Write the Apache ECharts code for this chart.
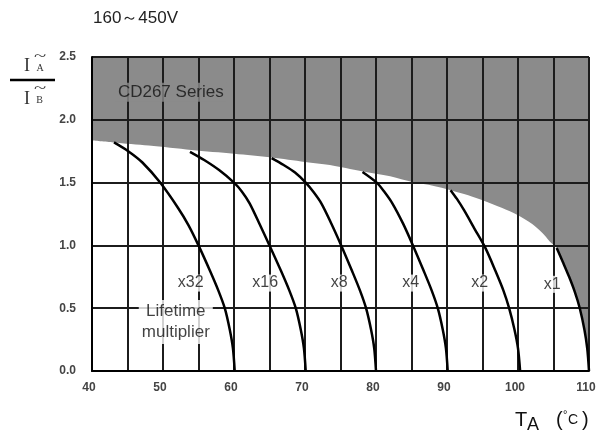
<!DOCTYPE html>
<html><head><meta charset="utf-8">
<script src="https://cdn.jsdelivr.net/npm/echarts@6/dist/echarts.min.js"></script>
<style>html,body{margin:0;padding:0;background:#fff}#c{width:603px;height:435px}</style>
</head><body><div id="c"></div>
<script>
// ---- data ----
const titleText = '160～450V';
const xMin = 40, xMax = 110, xStep = 5, xLabelStep = 10;
const yMin = 0, yMax = 2.5, yStep = 0.5;

// upper edge of the permitted (white) region; grey is above it
const boundary = [[40,1.835],[43,1.82],[48,1.795],[54,1.76],[60,1.73],[65.3,1.70],[70,1.665],[73.5,1.64],[78,1.59],[82,1.55],[85.4,1.5],[88,1.475],[90.5,1.44],[93,1.40],[95,1.36],[97.7,1.30],[100,1.24],[102,1.17],[103.4,1.10],[104.5,1.03],[105.45,0.98],[106.3,0.87],[107.2,0.75],[108.0,0.63],[108.7,0.5],[109.35,0.33],[109.75,0.18],[110,0]];

const curveNames = ['x32','x16','x8','x4','x2','x1'];
const curveX32 = [[43.1,1.82],[45.1,1.75],[47.1,1.66],[49.6,1.5],[52.1,1.30],[53.6,1.16],[55.0,1.0],[56.6,0.80],[57.8,0.64],[58.7,0.5],[59.4,0.33],[59.85,0.18],[60.1,0]];
const curveX16 = [[53.8,1.745],[55.8,1.68],[57.9,1.60],[60.0,1.5],[61.1,1.43],[62.2,1.335],[63.6,1.17],[65.0,1.0],[66.6,0.80],[67.8,0.64],[68.7,0.5],[69.4,0.33],[69.85,0.18],[70.1,0]];
const curveX8  = [[65.3,1.695],[67.0,1.64],[68.6,1.58],[70.1,1.5],[71.2,1.425],[72.3,1.335],[73.7,1.175],[75.1,1.0],[76.6,0.80],[77.75,0.64],[78.6,0.5],[79.3,0.33],[79.75,0.18],[80.0,0]];
const curveX4  = [[78.1,1.585],[80.1,1.5],[81.2,1.425],[82.3,1.335],[83.8,1.175],[85.2,1.0],[86.7,0.80],[87.85,0.64],[88.7,0.5],[89.4,0.33],[89.85,0.18],[90.1,0]];
const curveX2  = [[90.5,1.44],[91.4,1.37],[92.4,1.28],[93.9,1.13],[95.4,0.98],[96.8,0.80],[97.95,0.64],[98.75,0.5],[99.5,0.33],[100.0,0.18],[100.3,0]];
const curveX1  = [[105.45,0.98],[106.3,0.87],[107.2,0.75],[108.0,0.63],[108.7,0.5],[109.35,0.33],[109.75,0.18],[110,0]];
const curves = [curveX32, curveX16, curveX8, curveX4, curveX2, curveX1];

const labelX = [53.9, 64.4, 74.8, 84.9, 94.6, 104.8];
const labelY = [0.70, 0.70, 0.70, 0.70, 0.70, 0.69];

const noteText = 'Lifetime\nmultiplier';
const notePos = [51.8, 0.39];
const seriesText = 'CD267 Series';
const seriesPos = [51.1, 2.22];

// ---- chart ----
const GREY = '#8b8b8b';
const LINE = '#1c1c1c';
const FONT = '"Liberation Sans", Arial, sans-serif';
const SERIF = '"Liberation Serif", "DejaVu Serif", serif';

const chart = echarts.init(document.getElementById('c'), null, {renderer:'canvas'});

const series = [
  {
    type:'line', data: boundary, symbol:'none', z:1, silent:true, smooth:0.3,
    lineStyle:{width:0}, areaStyle:{origin:'end', color:GREY, opacity:1}
  }
];
curves.forEach((d, i) => series.push({
  type:'line', name: curveNames[i], data: d, symbol:'none', smooth:0.3, z:5, silent:true,
  lineStyle:{color:'#000', width:2.5}
}));
series.push({
  type:'scatter', z:8, silent:true, symbolSize:0.01, itemStyle:{color:'transparent'},
  data: curveNames.map((n,i)=>({value:[labelX[i], labelY[i]], name:n})),
  label:{show:true, position:'inside', formatter:'{b}', color:'#111', fontSize:16,
    fontFamily:FONT, backgroundColor:'#fff', padding:[1,2,0,2]}
});
series.push({
  type:'scatter', z:8, silent:true, symbolSize:0.01, itemStyle:{color:'transparent'},
  data:[{value:notePos, name:noteText}],
  label:{show:true, position:'inside', formatter:'{b}', color:'#111', fontSize:17, lineHeight:21,
    fontFamily:FONT, backgroundColor:'#fff', padding:[1,3,1,3], align:'center'}
});
series.push({
  type:'scatter', z:8, silent:true, symbolSize:0.01, itemStyle:{color:'transparent'},
  data:[{value:seriesPos, name:seriesText}],
  label:{show:true, position:'inside', formatter:'{b}', color:'#111', fontSize:17,
    fontFamily:FONT, backgroundColor:GREY, padding:[1,3,1,3]}
});

const option = {
  animation:false,
  backgroundColor:'#fff',
  grid:{left:92, right:14, top:57, bottom:64, containLabel:false},
  xAxis:{
    type:'value', min:xMin, max:xMax, interval:xStep, z:3,
    axisLine:{show:true, onZero:false, lineStyle:{color:'#000', width:2}},
    axisTick:{show:false},
    axisLabel:{margin:11, color:'#444', fontSize:12, fontWeight:'bold', fontFamily:FONT,
      padding:[0,6,0,0],
      formatter: v => (v % xLabelStep === 0 ? String(v) : '')},
    splitLine:{show:true, lineStyle:{color:LINE, width:2}}
  },
  yAxis:{
    type:'value', min:yMin, max:yMax, interval:yStep, z:3,
    axisLine:{show:true, lineStyle:{color:'#000', width:2}},
    axisTick:{show:false},
    axisLabel:{margin:16, color:'#444', fontSize:12, fontWeight:'bold', fontFamily:FONT,
      formatter: v => v.toFixed(1)},
    splitLine:{show:true, lineStyle:{color:LINE, width:2}}
  },
  series,
  graphic:[
    {type:'text', left:93, top:10, style:{text:titleText, font:'17px '+FONT, fill:'#222'}},
    // y-axis fraction  I~A / I~B
    {type:'text', x:27, y:66, style:{text:'I', font:'18px '+SERIF, fill:'#333', align:'center', verticalAlign:'middle'}},
    {type:'text', x:40, y:68.5, style:{text:'A', font:'10px '+SERIF, fill:'#333', align:'center', verticalAlign:'middle'}},
    {type:'text', x:40, y:57, scaleX:1.5, style:{text:'~', font:'15px '+SERIF, fill:'#333', align:'center', verticalAlign:'middle'}},
    {type:'line', shape:{x1:10, y1:80, x2:55, y2:80}, style:{stroke:'#000', lineWidth:2.5}},
    {type:'text', x:27, y:99, style:{text:'I', font:'18px '+SERIF, fill:'#333', align:'center', verticalAlign:'middle'}},
    {type:'text', x:39.5, y:100.5, style:{text:'B', font:'10px '+SERIF, fill:'#333', align:'center', verticalAlign:'middle'}},
    {type:'text', x:40, y:89, scaleX:1.5, style:{text:'~', font:'15px '+SERIF, fill:'#333', align:'center', verticalAlign:'middle'}},
    // x-axis name  T_A (°C)
    {type:'text', x:515, y:420, style:{text:'T', font:'20px '+FONT, fill:'#111', verticalAlign:'middle'}},
    {type:'text', x:527, y:425, style:{text:'A', font:'18px '+FONT, fill:'#111', verticalAlign:'middle'}},
    {type:'text', x:556, y:420, style:{text:'(', font:'20px '+FONT, fill:'#111', verticalAlign:'middle'}},
    {type:'text', x:563, y:415, style:{text:'°', font:'11px '+FONT, fill:'#111', verticalAlign:'middle'}},
    {type:'text', x:568, y:420, style:{text:'C', font:'14px '+FONT, fill:'#111', verticalAlign:'middle'}},
    {type:'text', x:582, y:420, style:{text:')', font:'20px '+FONT, fill:'#111', verticalAlign:'middle'}}
  ]
};
chart.setOption(option);
</script></body></html>
